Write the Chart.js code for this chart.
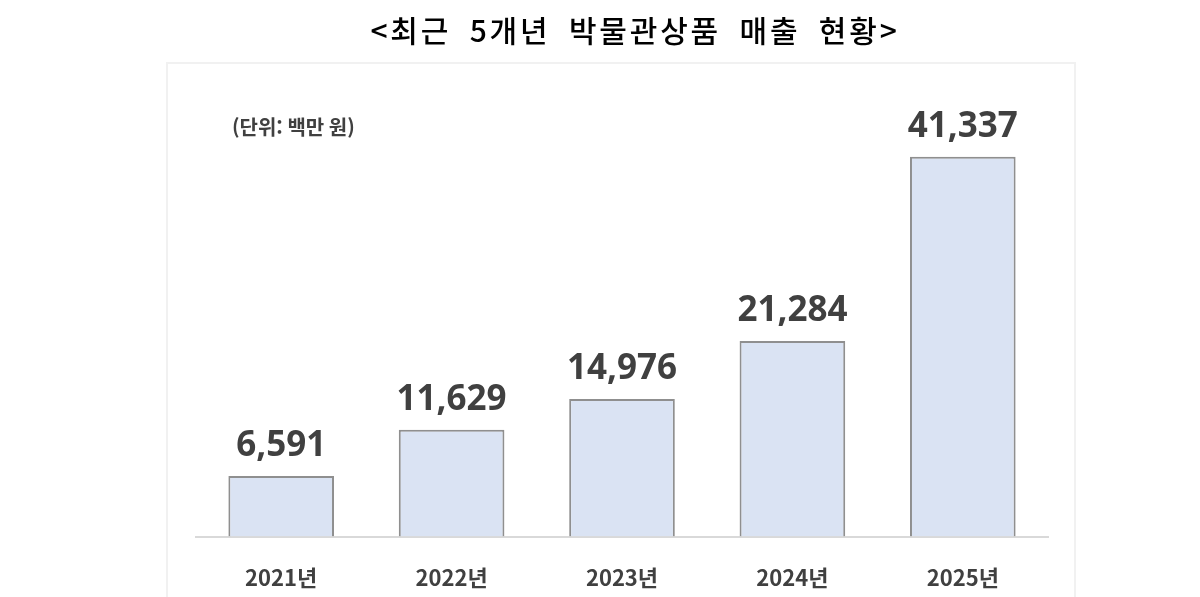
<!DOCTYPE html>
<html lang="ko">
<head>
<meta charset="utf-8">
<script src="https://cdn.jsdelivr.net/npm/chart.js@4.4.1/dist/chart.umd.min.js"></script>
<style>
  html, body { margin: 0; padding: 0; background: #fff; }
  #wrap { width: 1200px; height: 597px; position: relative; }
</style>
</head>
<body>
<div id="wrap"><canvas id="myChart" width="1200" height="597"></canvas></div>
<script>
const years = ["2021년", "2022년", "2023년", "2024년", "2025년"];
const sales = [6591, 11629, 14976, 21284, 41337];
const chartTitle = "<최근 5개년 박물관상품 매출 현황>";
const unitLabel = "(단위: 백만 원)";

const ctx = document.getElementById("myChart").getContext("2d");

// frame, title, unit text and value labels
const decorations = {
  id: "decorations",
  beforeDraw(chart) {
    const c = chart.ctx;
    c.save();
    c.strokeStyle = "#f1f1f1";
    c.lineWidth = 2;
    c.strokeRect(167, 63, 908, 560);
    c.restore();
  },
  afterDraw(chart) {
    const c = chart.ctx;
    c.save();
    c.fillStyle = "#000";
    c.font = "500 30px 'Noto Sans CJK KR'";
    c.letterSpacing = "2.8px";
    c.wordSpacing = "9px";
    c.textAlign = "center";
    c.textBaseline = "middle";
    c.fillText(chartTitle, 635, 31);

    c.letterSpacing = "0px";
    c.wordSpacing = "0px";
    c.fillStyle = "#404040";
    c.font = "bold 20px 'Noto Sans CJK KR'";
    c.textAlign = "left";
    c.fillText(unitLabel, 232, 127);

    c.font = "bold 35px 'Open Sans'";
    c.textAlign = "center";
    c.textBaseline = "alphabetic";
    const meta = chart.getDatasetMeta(0);
    meta.data.forEach((bar, i) => {
      c.fillText(sales[i].toLocaleString("en-US"), bar.x, bar.y - 20);
    });
    c.restore();
  },
};

const myChart = new Chart(ctx, {
  type: "bar",
  data: {
    labels: years,
    datasets: [
      {
        data: sales,
        backgroundColor: "#dae3f3",
        borderColor: "#8f8f8f",
        borderWidth: 2,
        borderSkipped: "bottom",
        categoryPercentage: 1,
        barPercentage: 0.62,
      },
    ],
  },
  options: {
    responsive: false,
    animation: false,
    devicePixelRatio: 1,
    layout: {
      padding: { left: 196, right: 152, top: 100, bottom: -22 },
    },
    plugins: {
      legend: { display: false },
      tooltip: { enabled: false },
    },
    scales: {
      x: {
        grid: { display: false, drawTicks: false },
        border: { display: true, color: "#d9d9d9", width: 2 },
        ticks: {
          color: "#404040",
          padding: 28,
          font: { family: "'Noto Sans CJK KR'", size: 22, weight: "bold" },
        },
      },
      y: {
        display: false,
        beginAtZero: true,
        min: 0,
        max: 47500,
      },
    },
  },
  plugins: [decorations],
});
</script>
</body>
</html>
